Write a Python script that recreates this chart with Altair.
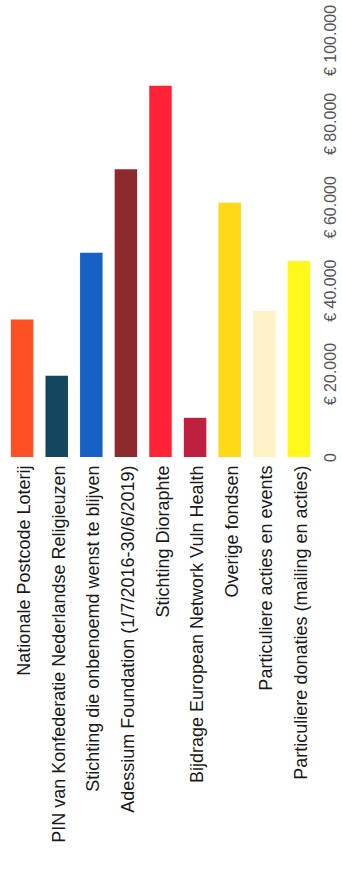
import altair as alt
import pandas as pd

categories = [
    "Nationale Postcode Loterij",
    "PIN van Konfederatie Nederlandse Religieuzen",
    "Stichting die onbenoemd wenst te blijven",
    "Adessium Foundation (1/7/2016-30/6/2019)",
    "Stichting Dioraphte",
    "Bijdrage European Network Vuln Health",
    "Overige fondsen",
    "Particuliere acties en events",
    "Particuliere donaties (mailing en acties)",
]
values = [33000, 19500, 49000, 69000, 89000, 9400, 61000, 35000, 47000]
colors = ["#FF4F25", "#12475E", "#1760C4", "#8C2A2E", "#FF2336",
          "#BE2140", "#FFD916", "#FDF3C6", "#FFF81A"]
tick_values = [0, 20000, 40000, 60000, 80000, 100000]

df = pd.DataFrame({"categorie": categories, "bedrag": values, "kleur": colors})

label_expr = ("datum.value == 0 ? '0' : '€ ' + replace(format(datum.value, ',.0f'), ',', '.')")

chart = alt.Chart(df).mark_bar().encode(
    x=alt.X("categorie:N", sort=categories, title=None,
            scale=alt.Scale(paddingInner=0.35, paddingOuter=0.17),
            axis=alt.Axis(labelAngle=-90, labelAlign="right", labelBaseline="middle",
                          labelFontSize=18, labelFont="Liberation Sans",
                          labelColor="#1a1a1a", labelPadding=8, labelOffset=3,
                          ticks=False, domain=False, labelLimit=0)),
    y=alt.Y("bedrag:Q", title=None,
            scale=alt.Scale(domain=[0, 100000], nice=False),
            axis=alt.Axis(orient="right", values=tick_values, labelExpr=label_expr,
                          labelAngle=-90, labelAlign="center", labelBaseline="top",
                          labelFontSize=16, labelFont="Liberation Sans",
                          labelColor="#555555", labelPadding=6, labelFlush=False,
                          labelOverlap=False, labelLimit=0,
                          ticks=False, domain=False, grid=False)),
    color=alt.Color("kleur:N", scale=None, legend=None),
).properties(
    width=311, height=417,
    background="white",
    autosize=alt.AutoSizeParams(type="none"),
    padding={"left": 5, "top": 40, "right": 26, "bottom": 419},
).configure_view(stroke=None, strokeWidth=0)

chart.save("out.html", embed_options={"renderer": "svg", "actions": False})
